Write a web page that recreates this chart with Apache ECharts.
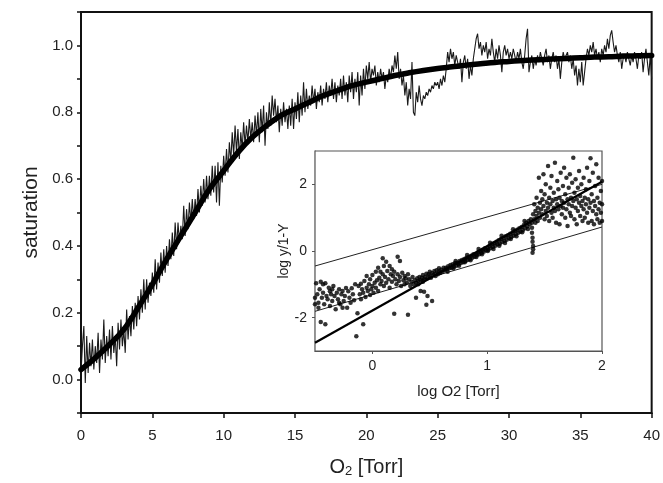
<!DOCTYPE html>
<html>
<head>
<meta charset="utf-8">
<script src="https://cdn.jsdelivr.net/npm/echarts@6/dist/echarts.min.js"></script>
<style>
html,body{margin:0;padding:0;background:#fff;}
#c{width:663px;height:483px;}
</style>
</head>
<body>
<div id="c"></div>
<script>
// ---- main panel data ----
const noisyStart = 0;      // Torr
const noisyStep = 0.1;     // Torr between samples
const noisyY = [
0.02,0.10,0.16,-0.01,0.13,0.02,0.11,0.04,0.12,0.03,
0.10,0.05,0.14,0.02,0.12,0.06,0.18,0.05,0.13,0.07,
0.15,0.06,0.16,0.08,0.13,0.04,0.17,0.09,0.18,0.10,
0.15,0.08,0.21,0.12,0.19,0.13,0.22,0.15,0.23,0.16,
0.25,0.18,0.27,0.20,0.30,0.21,0.30,0.23,0.29,0.25,
0.32,0.26,0.36,0.27,0.35,0.29,0.38,0.31,0.39,0.32,
0.40,0.34,0.42,0.36,0.44,0.37,0.47,0.39,0.47,0.41,
0.46,0.42,0.52,0.43,0.51,0.45,0.53,0.47,0.54,0.48,
0.54,0.49,0.57,0.50,0.58,0.52,0.60,0.53,0.61,0.54,
0.61,0.55,0.64,0.56,0.64,0.53,0.65,0.52,0.64,0.59,
0.67,0.61,0.69,0.62,0.71,0.65,0.74,0.67,0.76,0.68,
0.75,0.66,0.74,0.69,0.77,0.70,0.76,0.71,0.78,0.72,
0.77,0.71,0.79,0.73,0.80,0.71,0.81,0.74,0.82,0.70,
0.80,0.75,0.83,0.76,0.85,0.79,0.84,0.77,0.82,0.74,
0.81,0.76,0.83,0.77,0.81,0.75,0.82,0.76,0.84,0.75,
0.83,0.78,0.86,0.77,0.85,0.79,0.89,0.80,0.87,0.81,
0.85,0.82,0.88,0.83,0.87,0.81,0.86,0.83,0.88,0.82,
0.87,0.84,0.89,0.83,0.88,0.85,0.90,0.84,0.89,0.83,
0.88,0.85,0.90,0.84,0.91,0.85,0.89,0.83,0.91,0.86,
0.92,0.84,0.90,0.86,0.92,0.82,0.91,0.85,0.93,0.87,
0.94,0.90,0.95,0.89,0.93,0.91,0.94,0.88,0.92,0.89,
0.93,0.90,0.92,0.87,0.91,0.89,0.93,0.90,0.94,0.92,
0.97,0.93,0.98,0.90,0.93,0.88,0.91,0.85,0.89,0.82,
0.87,0.84,0.95,0.80,0.79,0.86,0.83,0.88,0.84,0.82,
0.85,0.84,0.86,0.85,0.87,0.86,0.88,0.87,0.89,0.88,
0.89,0.87,0.90,0.88,0.91,0.89,0.93,0.98,0.95,0.99,
0.96,0.98,0.94,0.97,0.95,0.93,0.96,0.89,0.95,0.97,
0.93,0.96,0.90,0.94,0.91,0.96,0.99,1.02,1.035,0.99,
1.01,0.97,1.00,0.98,1.01,0.96,0.99,0.97,1.02,0.98,
0.95,0.99,0.96,1.00,0.97,0.92,0.98,1.00,0.97,0.99,
0.96,0.98,0.96,0.99,0.97,0.95,0.98,0.96,0.99,0.95,
0.93,0.97,1.02,1.05,0.92,0.95,0.97,0.93,0.96,0.94,
0.97,0.95,0.98,0.96,0.94,0.97,0.99,0.95,0.97,0.93,
0.96,0.98,0.95,0.97,0.93,0.96,0.90,0.95,0.98,0.96,
0.97,0.98,0.95,0.97,0.93,0.96,0.91,0.94,0.88,0.93,
0.89,0.95,0.88,0.92,0.96,0.99,0.97,1.00,0.98,1.01,
0.97,0.99,0.96,0.98,0.95,0.99,0.97,1.00,0.98,1.02,
0.99,1.03,1.045,1.01,0.98,1.00,0.97,0.95,0.98,0.93,
0.96,0.97,0.95,0.98,0.96,0.94,0.97,0.95,0.98,0.96,
0.93,0.97,0.96,0.98,0.92,0.96,0.99,0.95,0.91,0.97,
0.90
];
const fitX = [0,1,2,3,4,5,6,7,8,9,10,11,12,13,14,15,16,17,18,19,20,21,22,23,24,25,26,27,28,29,30,31,32,33,34,35,36,37,38,39,40];
const fitY = [0.03,0.065,0.105,0.15,0.215,0.285,0.36,0.43,0.50,0.57,0.625,0.68,0.725,0.76,0.79,0.81,0.83,0.85,0.865,0.88,0.89,0.90,0.91,0.918,0.925,0.931,0.936,0.941,0.945,0.949,0.952,0.955,0.957,0.959,0.961,0.963,0.965,0.966,0.968,0.969,0.97];
const mainXTicks = [0,5,10,15,20,25,30,35,40];
const mainYLabels = [0.0,0.2,0.4,0.6,0.8,1.0];

// ---- inset data (Hill plot) ----
const insetXTicks = [0,1,2];
const insetYTicks = [-2,0,2];
const hillPoints = [
[-0.49,-0.97],[-0.48,-1.3],[-0.47,-1.55],[-0.46,-1.15],[-0.45,-0.92],[-0.45,-2.13],[-0.44,-1.4],[-0.43,-1.25],[-0.42,-1.6],[-0.41,-0.97],
[-0.41,-2.2],[-0.40,-1.35],[-0.39,-1.45],[-0.38,-1.1],[-0.37,-1.21],[-0.37,-1.65],[-0.36,-1.3],[-0.35,-1.5],[-0.34,-1.05],[-0.33,-1.35],
[-0.32,-1.75],[-0.31,-1.25],[-0.30,-1.45],[-0.29,-1.15],[-0.28,-1.6],[-0.27,-1.3],[-0.26,-1.2],[-0.25,-1.5],[-0.24,-1.35],[-0.23,-1.11],
[-0.22,-1.7],[-0.21,-1.21],[-0.20,-1.4],[-0.19,-1.55],[-0.18,-1.12],[-0.17,-1.3],[-0.16,-1.48],[-0.15,-1.0],[-0.14,-2.56],[-0.13,-1.87],
[-0.47,-1.7],[-0.43,-1.0],[-0.35,-1.15],[-0.29,-1.55],[-0.26,-1.7],[-0.5,-1.4],[-0.5,-1.6],
[-0.12,-1.05],[-0.11,-1.3],[-0.10,-0.98],[-0.10,-1.45],[-0.09,-1.15],[-0.08,-2.2],[-0.08,-1.25],[-0.07,-0.9],[-0.06,-1.38],[-0.05,-1.1],
[-0.05,-0.75],[-0.04,-1.2],[-0.03,-1.0],[-0.02,-1.32],[-0.02,-0.85],[-0.01,-1.15],[0.00,-1.05],[0.00,-0.72],[0.01,-1.25],[0.02,-0.95],
[0.03,-1.1],[0.03,-0.62],[0.04,-0.88],[0.05,-1.2],[0.05,-0.5],[0.06,-0.8],[0.07,-1.0],[0.07,-0.62],[0.08,-0.9],[0.09,-0.22],
[0.09,-0.7],[0.10,-1.05],[0.10,-0.45],[0.11,-0.78],[0.12,-0.32],[0.12,-0.95],[0.13,-0.6],[0.14,-0.85],[0.15,-0.45],[0.15,-1.1],
[0.16,-0.7],[0.17,-0.55],[0.17,-0.92],[0.18,-0.75],[0.19,-1.88],[0.19,-0.62],[0.20,-0.85],[0.21,-1.0],[0.22,-0.17],[0.22,-0.7],
[0.23,-0.9],[0.24,-0.3],[0.24,-0.78],[0.25,-1.05],[0.26,-0.65],[0.27,-0.88],[0.28,-0.75],[0.28,-1.0],[0.29,-0.82],[0.30,-0.95],
[0.31,-1.91],[0.31,-0.7],[0.32,-0.85],[0.33,-1.05],[0.34,-0.92],[0.35,-0.78],[0.36,-1.0],[0.37,-0.88],
[0.38,-0.95],[0.38,-1.4],[0.39,-0.82],[0.40,-0.9],[0.40,-1.0],[0.41,-0.78],[0.42,-0.88],[0.42,-1.2],[0.43,-0.8],[0.44,-0.92],
[0.44,-0.72],[0.45,-0.85],[0.45,-1.22],[0.46,-0.78],[0.47,-0.68],[0.47,-1.61],[0.48,-0.82],[0.48,-1.35],[0.49,-0.7],[0.50,-0.76],
[0.50,-0.62],[0.51,-0.8],[0.52,-0.66],[0.52,-1.5],[0.53,-0.72],[0.54,-0.6],[0.55,-0.75],[0.55,-0.68],[0.56,-0.58],[0.57,-0.7],
[0.58,-0.62],[0.58,-0.52],[0.59,-0.66],[0.60,-0.56],[0.61,-0.62],[0.62,-0.5],
[0.63,-0.58],[0.64,-0.5],[0.65,-0.55],[0.66,-0.46],[0.67,-0.52],[0.68,-0.42],[0.69,-0.5],[0.70,-0.4],[0.71,-0.47],[0.72,-0.36],
[0.73,-0.44],[0.74,-0.35],[0.75,-0.4],[0.76,-0.3],[0.77,-0.36],[0.78,-0.27],[0.79,-0.34],[0.80,-0.24],[0.81,-0.3],[0.82,-0.2],
[0.83,-0.27],[0.84,-0.18],[0.85,-0.24],[0.86,-0.14],[0.87,-0.2],[0.88,-0.1],[0.89,-0.17],[0.90,-0.08],[0.91,-0.13],[0.92,-0.04],
[0.93,-0.1],[0.94,0.0],[0.95,-0.06],[0.96,0.04],[0.97,-0.02],[0.98,0.08],[0.99,0.02],[1.00,0.1],[1.01,0.04],[1.02,0.15],
[1.03,0.08],[1.04,0.2],[1.05,0.12],[1.06,0.24],[1.07,0.16],[1.08,0.28],[1.09,0.2],[1.10,0.32],[1.11,0.22],[1.12,0.36],
[1.13,0.27],[1.14,0.4],[1.15,0.3],[1.16,0.44],[1.17,0.34],[1.18,0.47],[1.19,0.38],[1.20,0.52],[1.21,0.42],[1.22,0.55],
[1.23,0.46],[1.24,0.6],[1.25,0.5],[1.26,0.64],[1.27,0.55],[1.28,0.68],[1.29,0.58],[1.30,0.72],[1.31,0.62],[1.32,0.78],
[1.33,0.68],[1.34,0.85],[1.35,0.74],[1.36,0.9],[1.37,0.8],[1.38,0.95],
[0.655,-0.62],[0.705,-0.52],[0.755,-0.44],[0.805,-0.34],[0.855,-0.28],[0.905,-0.18],[0.955,-0.1],[1.005,0.0],[1.055,0.06],[1.105,0.16],
[1.155,0.24],[1.205,0.36],[1.255,0.44],[1.305,0.56],[1.355,0.66],[0.725,-0.3],[0.825,-0.12],[0.925,0.06],[1.025,0.25],[1.125,0.46],
[1.225,0.65],[1.325,0.9],
[1.39,0.7],[1.39,0.55],[1.395,0.4],[1.395,0.28],[1.40,0.15],[1.40,0.05],[1.395,-0.05],[1.39,0.85],
[1.40,1.1],[1.41,0.95],[1.41,1.4],[1.42,1.2],[1.42,0.85],[1.43,1.05],[1.43,1.6],[1.44,1.3],[1.44,0.9],[1.45,1.15],
[1.45,2.2],[1.46,1.45],[1.46,1.0],[1.47,1.25],[1.47,1.8],[1.48,1.1],[1.48,1.55],[1.49,2.3],[1.49,1.35],[1.50,0.95],
[1.50,1.7],[1.51,1.2],[1.51,2.0],[1.52,1.45],[1.52,1.05],[1.53,2.55],[1.53,1.3],[1.54,1.6],[1.54,0.9],[1.55,1.4],
[1.55,1.9],[1.56,1.15],[1.56,2.25],[1.57,1.5],[1.57,1.0],[1.58,1.75],[1.58,1.3],[1.59,2.65],[1.59,1.2],[1.60,1.55],
[1.60,0.85],[1.61,1.4],[1.61,2.1],[1.62,1.25],[1.62,1.85],[1.63,1.6],[1.63,0.8],[1.64,1.35],[1.64,2.35],[1.65,1.5],
[1.65,1.1],[1.66,1.95],[1.66,1.3],[1.67,2.5],[1.67,1.45],[1.68,1.0],[1.68,1.7],[1.69,1.25],[1.69,2.2],[1.70,1.55],
[1.70,0.75],[1.71,1.4],[1.71,1.9],[1.72,1.15],[1.72,2.3],[1.73,1.6],[1.73,1.05],[1.74,1.35],[1.74,2.05],[1.75,2.8],
[1.75,1.5],[1.76,0.95],[1.76,1.75],[1.77,1.3],[1.77,2.15],[1.78,1.55],[1.78,0.8],[1.79,1.2],[1.79,1.9],[1.80,1.45],
[1.80,2.4],[1.81,1.05],[1.81,1.65],[1.82,1.35],[1.82,2.0],[1.83,0.9],[1.83,1.5],[1.84,1.25],[1.84,2.2],[1.85,1.6],
[1.85,1.0],[1.86,1.4],[1.86,1.85],[1.87,2.5],[1.87,1.15],[1.88,1.55],[1.88,0.85],[1.89,1.3],[1.89,2.1],[1.90,1.45],
[1.90,2.78],[1.91,0.9],[1.91,1.7],[1.92,1.2],[1.92,2.35],[1.93,1.5],[1.93,0.8],[1.94,1.35],[1.94,1.95],[1.95,1.1],
[1.95,2.6],[1.96,1.6],[1.96,0.95],[1.97,1.25],[1.97,2.2],[1.98,1.45],[1.98,0.85],[1.99,1.8],[1.99,1.15],[2.0,1.4],
[2.0,0.9],[2.0,2.1]
];
const lineUpper = [[-0.5,-0.45],[2,2.0]];
const lineLower = [[-0.5,-1.81],[2,0.72]];
const lineHill  = [[-0.5,-2.75],[2,2.08]];

// ---- build chart ----
const noisyData = noisyY.map((y,i)=>[Math.round((noisyStart + i*noisyStep)*10)/10, y]);
const fitData = fitX.map((x,i)=>[x, fitY[i]]);
const FONT = 'Liberation Sans, Arial, sans-serif';

const chart = echarts.init(document.getElementById('c'), null, {renderer:'canvas'});
chart.setOption({
  animation:false,
  backgroundColor:'#fff',
  grid:[
    {left:81, top:12, width:572, height:401, show:true, borderColor:'#111', borderWidth:2, backgroundColor:'transparent'},
    {left:315, top:151, width:287, height:200, show:true, borderColor:'#555', borderWidth:1.2, backgroundColor:'#fff', z:5}
  ],
  xAxis:[
    {type:'value', gridIndex:0, min:0, max:40, interval:5,
     axisLine:{show:true, onZero:false, lineStyle:{color:'#111', width:2}},
     axisTick:{show:true, inside:false, length:5, lineStyle:{color:'#111', width:1.5}},
     axisLabel:{show:true, margin:15, color:'#222', fontSize:15, fontFamily:FONT,
       customValues: mainXTicks},
     splitLine:{show:false},
     name:'O{s|2} [Torr]', nameLocation:'middle', nameGap:44,
     nameTextStyle:{fontSize:20, color:'#222', fontFamily:FONT,
       rich:{s:{fontSize:13, verticalAlign:'bottom', padding:[8,0,0,0], color:'#222', fontFamily:FONT}}}
    },
    {type:'value', gridIndex:1, min:-0.5, max:2, interval:0.5,
     axisLine:{show:true, onZero:false, lineStyle:{color:'#555', width:1.2}},
     axisTick:{show:true, length:3, lineStyle:{color:'#555'}, customValues: insetXTicks},
     axisLabel:{show:true, margin:8, color:'#222', fontSize:14, fontFamily:FONT, customValues: insetXTicks},
     splitLine:{show:false},
     name:'log O2 [Torr]', nameLocation:'middle', nameGap:33,
     nameTextStyle:{fontSize:15, color:'#222', fontFamily:FONT}
    }
  ],
  yAxis:[
    {type:'value', gridIndex:0, min:-0.1, max:1.1, interval:0.1,
     axisLine:{show:true, onZero:false, lineStyle:{color:'#111', width:2}},
     axisTick:{show:true, length:4, lineStyle:{color:'#111', width:1.5}},
     axisLabel:{show:true, margin:8, color:'#222', fontSize:15, fontFamily:FONT,
       customValues: mainYLabels,
       formatter:(v)=>v.toFixed(1)},
     splitLine:{show:false},
     name:'saturation', nameLocation:'middle', nameGap:38, nameRotate:90,
     nameTextStyle:{fontSize:21, color:'#222', fontFamily:FONT}
    },
    {type:'value', gridIndex:1, min:-3, max:3, interval:1,
     axisLine:{show:true, onZero:false, lineStyle:{color:'#555', width:1.2}},
     axisTick:{show:true, length:3, lineStyle:{color:'#555'}, customValues: insetYTicks},
     axisLabel:{show:true, margin:8, color:'#222', fontSize:14, fontFamily:FONT, customValues: insetYTicks},
     splitLine:{show:false},
     name:'log y/1-Y', nameLocation:'middle', nameGap:22, nameRotate:90,
     nameTextStyle:{fontSize:14, color:'#222', fontFamily:FONT}
    }
  ],
  series:[
    {type:'line', name:'data', xAxisIndex:0, yAxisIndex:0, data:noisyData, showSymbol:false,
     lineStyle:{color:'#1a1a1a', width:1.1}, z:2},
    {type:'line', name:'fit', xAxisIndex:0, yAxisIndex:0, data:fitData, showSymbol:false, smooth:0.4,
     lineStyle:{color:'#000', width:5.5, cap:'round'}, z:3},
    {type:'scatter', name:'hill', xAxisIndex:1, yAxisIndex:1, data:hillPoints, symbol:'circle', symbolSize:4.5,
     itemStyle:{color:'#000'}, z:6},
    {type:'line', xAxisIndex:1, yAxisIndex:1, data:lineUpper, showSymbol:false, lineStyle:{color:'#222', width:1}, z:6},
    {type:'line', xAxisIndex:1, yAxisIndex:1, data:lineLower, showSymbol:false, lineStyle:{color:'#222', width:1}, z:6},
    {type:'line', xAxisIndex:1, yAxisIndex:1, data:lineHill, showSymbol:false, lineStyle:{color:'#000', width:2.2}, z:6}
  ]
});
</script>
</body>
</html>
